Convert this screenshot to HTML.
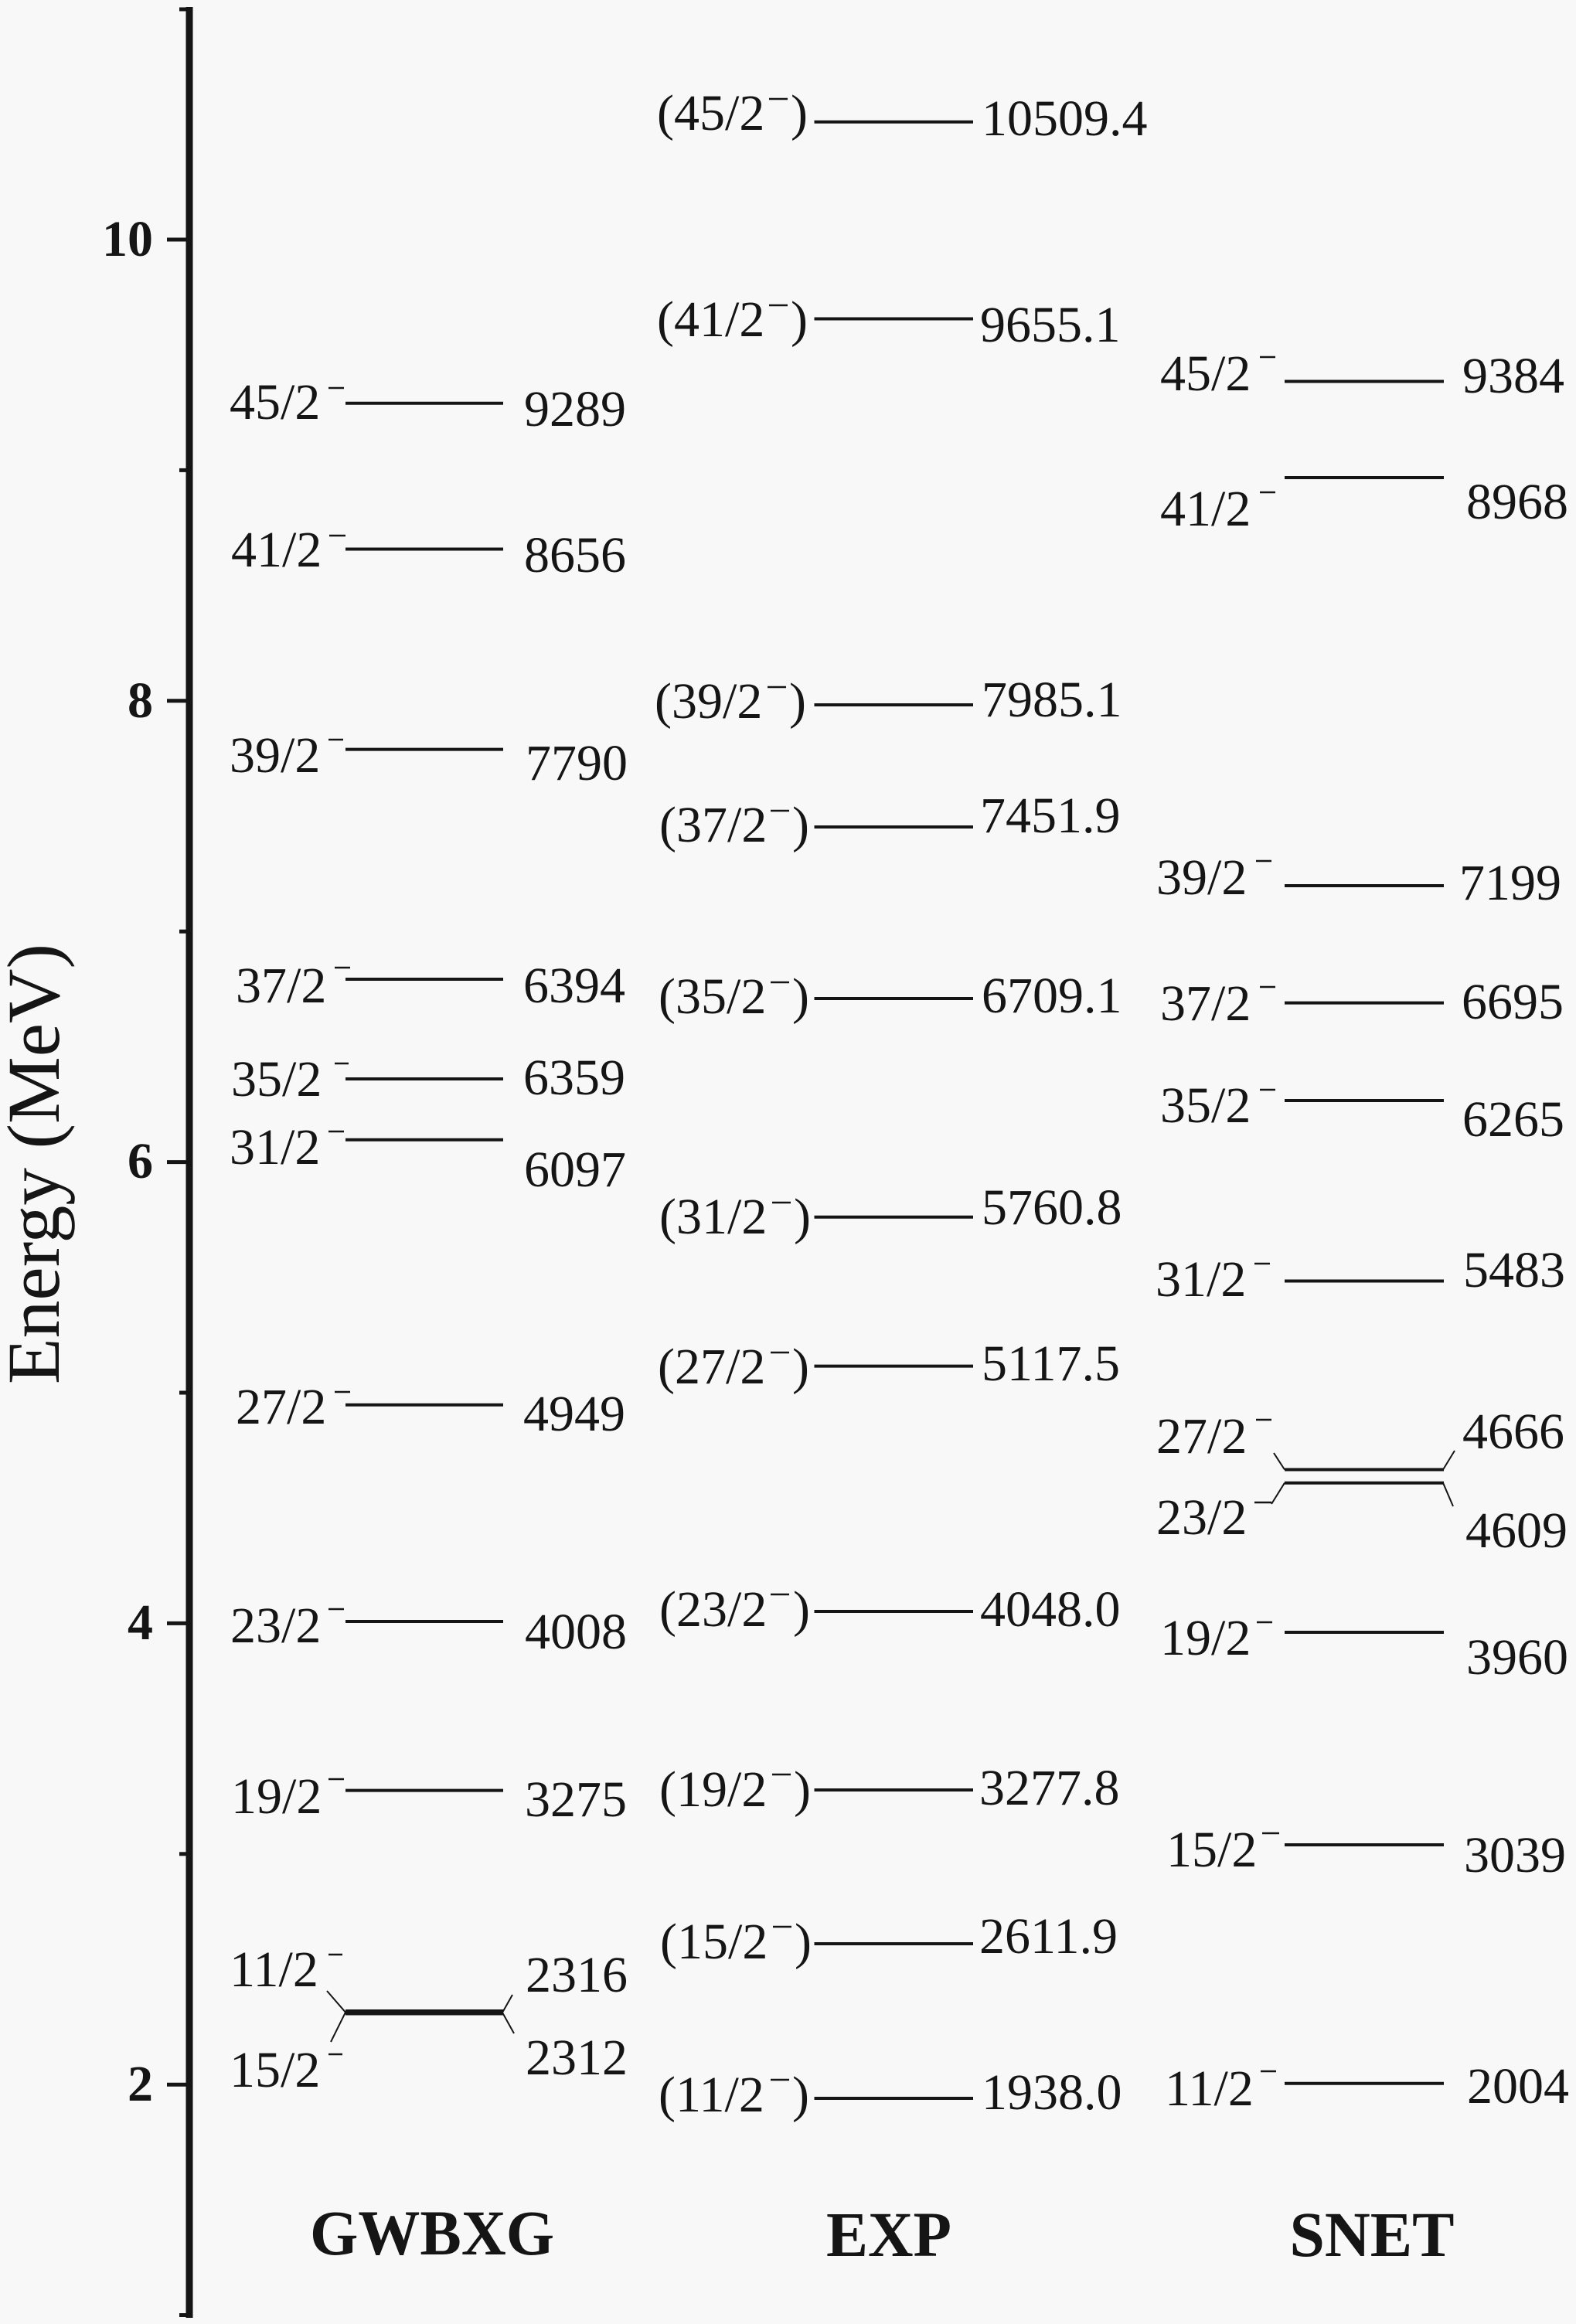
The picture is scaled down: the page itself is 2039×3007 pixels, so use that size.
<!DOCTYPE html>
<html>
<head>
<meta charset="utf-8">
<style>
html,body{margin:0;padding:0;background:#f8f8f8;}
svg{display:block;}
text{font-family:"Liberation Serif","Times New Roman",serif;fill:#151515;}
.l{font-size:66px;}
.b{font-size:66px;font-weight:bold;}
.t{font-size:83px;font-weight:bold;}
</style>
</head>
<body>
<svg width="2039" height="3007" viewBox="0 0 2039 3007" xmlns="http://www.w3.org/2000/svg">
<rect x="0" y="0" width="2039" height="3007" fill="#f8f8f8"/>
<g stroke="#151515" fill="none">
<!-- axis -->
<line x1="245" y1="9" x2="245" y2="2999" stroke-width="9"/>
<g stroke-width="5">
<line x1="216" y1="310" x2="245" y2="310"/>
<line x1="216" y1="906.8" x2="245" y2="906.8"/>
<line x1="216" y1="1503.6" x2="245" y2="1503.6"/>
<line x1="216" y1="2100.4" x2="245" y2="2100.4"/>
<line x1="216" y1="2697.2" x2="245" y2="2697.2"/>
<line x1="232" y1="12" x2="245" y2="12"/>
<line x1="232" y1="608.4" x2="245" y2="608.4"/>
<line x1="232" y1="1205.2" x2="245" y2="1205.2"/>
<line x1="232" y1="1802" x2="245" y2="1802"/>
<line x1="232" y1="2398.8" x2="245" y2="2398.8"/>
<line x1="232" y1="2995.5" x2="245" y2="2995.5"/>
</g>
<!-- GWBXG levels -->
<g stroke-width="4">
<line x1="447" y1="521.7" x2="651" y2="521.7"/>
<line x1="447" y1="710.5" x2="651" y2="710.5"/>
<line x1="447" y1="969.6" x2="651" y2="969.6"/>
<line x1="447" y1="1267" x2="651" y2="1267"/>
<line x1="447" y1="1396" x2="651" y2="1396"/>
<line x1="447" y1="1474.7" x2="651" y2="1474.7"/>
<line x1="447" y1="1817.8" x2="651" y2="1817.8"/>
<line x1="447" y1="2098" x2="651" y2="2098"/>
<line x1="447" y1="2316.6" x2="651" y2="2316.6"/>
<line x1="447" y1="2602" x2="651" y2="2602"/>
<line x1="447" y1="2605.5" x2="651" y2="2605.5"/>
</g>
<g stroke-width="2">
<polyline points="423,2576 447,2603.7 428,2642"/>
<polyline points="663,2581 650,2604 665,2631"/>
</g>
<!-- EXP levels -->
<g stroke-width="4">
<line x1="1053.5" y1="157.8" x2="1259" y2="157.8"/>
<line x1="1053.5" y1="412.5" x2="1259" y2="412.5"/>
<line x1="1053.5" y1="912" x2="1259" y2="912"/>
<line x1="1053.5" y1="1070" x2="1259" y2="1070"/>
<line x1="1053.5" y1="1292" x2="1259" y2="1292"/>
<line x1="1053.5" y1="1574.7" x2="1259" y2="1574.7"/>
<line x1="1053.5" y1="1767.6" x2="1259" y2="1767.6"/>
<line x1="1053.5" y1="2085" x2="1259" y2="2085"/>
<line x1="1053.5" y1="2316" x2="1259" y2="2316"/>
<line x1="1053.5" y1="2515" x2="1259" y2="2515"/>
<line x1="1053.5" y1="2715" x2="1259" y2="2715"/>
</g>
<!-- SNET levels -->
<g stroke-width="4">
<line x1="1662" y1="493.5" x2="1868" y2="493.5"/>
<line x1="1662" y1="618" x2="1868" y2="618"/>
<line x1="1662" y1="1146" x2="1868" y2="1146"/>
<line x1="1662" y1="1297.6" x2="1868" y2="1297.6"/>
<line x1="1662" y1="1424" x2="1868" y2="1424"/>
<line x1="1662" y1="1657.5" x2="1868" y2="1657.5"/>
<line x1="1662" y1="1901.5" x2="1868" y2="1901.5"/>
<line x1="1662" y1="1918.7" x2="1868" y2="1918.7"/>
<line x1="1662" y1="2112" x2="1868" y2="2112"/>
<line x1="1662" y1="2387" x2="1868" y2="2387"/>
<line x1="1662" y1="2695.7" x2="1868" y2="2695.7"/>
</g>
<g stroke-width="2">
<line x1="1648" y1="1880" x2="1662" y2="1901.5"/>
<line x1="1662" y1="1918.7" x2="1645" y2="1946"/>
<line x1="1867" y1="1901.5" x2="1882" y2="1877"/>
<line x1="1867" y1="1918.7" x2="1880" y2="1949"/>
</g>
<!-- superscript minus signs -->
<g stroke-width="2.5">
<line x1="425" y1="502" x2="445" y2="502"/>
<line x1="426" y1="693" x2="447" y2="693"/>
<line x1="425" y1="957" x2="444" y2="957"/>
<line x1="433" y1="1252" x2="453" y2="1252"/>
<line x1="433" y1="1376" x2="451" y2="1376"/>
<line x1="425" y1="1464" x2="445" y2="1464"/>
<line x1="433" y1="1801" x2="453" y2="1801"/>
<line x1="425" y1="2082" x2="445" y2="2082"/>
<line x1="425" y1="2302" x2="445" y2="2302"/>
<line x1="425" y1="2529" x2="443" y2="2529"/>
<line x1="425" y1="2658" x2="443" y2="2658"/>

<line x1="995" y1="128" x2="1019" y2="128"/>
<line x1="995" y1="395" x2="1019" y2="395"/>
<line x1="993" y1="889" x2="1017" y2="889"/>
<line x1="997" y1="1049" x2="1021" y2="1049"/>
<line x1="997" y1="1271" x2="1021" y2="1271"/>
<line x1="999" y1="1556" x2="1023" y2="1556"/>
<line x1="997" y1="1750" x2="1021" y2="1750"/>
<line x1="997" y1="2063" x2="1021" y2="2063"/>
<line x1="999" y1="2296" x2="1023" y2="2296"/>
<line x1="1000" y1="2493" x2="1024" y2="2493"/>
<line x1="997" y1="2691" x2="1021" y2="2691"/>

<line x1="1630" y1="462" x2="1650" y2="462"/>
<line x1="1630" y1="637" x2="1650" y2="637"/>
<line x1="1625" y1="1114" x2="1645" y2="1114"/>
<line x1="1630" y1="1277" x2="1650" y2="1277"/>
<line x1="1630" y1="1410" x2="1650" y2="1410"/>
<line x1="1623" y1="1635" x2="1643" y2="1635"/>
<line x1="1625" y1="1837" x2="1645" y2="1837"/>
<line x1="1623" y1="1944" x2="1645" y2="1944"/>
<line x1="1626" y1="2099" x2="1646" y2="2099"/>
<line x1="1633" y1="2372" x2="1655" y2="2372"/>
<line x1="1631" y1="2680" x2="1651" y2="2680"/>
</g>
</g>

<!-- tick labels -->
<g class="b" text-anchor="end">
<text x="198" y="331">10</text>
<text x="198" y="928">8</text>
<text x="198" y="1524">6</text>
<text x="198" y="2121">4</text>
<text x="198" y="2718">2</text>
</g>
<text class="l" style="font-size:96px" transform="translate(76,1506) rotate(-90)" text-anchor="middle" textLength="570" lengthAdjust="spacingAndGlyphs">Energy (MeV)</text>

<!-- GWBXG labels -->
<g class="l">
<text x="297" y="542">45/2</text>
<text x="299" y="733">41/2</text>
<text x="297" y="999">39/2</text>
<text x="305" y="1297">37/2</text>
<text x="299" y="1418">35/2</text>
<text x="297" y="1506">31/2</text>
<text x="305" y="1842">27/2</text>
<text x="298" y="2125">23/2</text>
<text x="299" y="2346">19/2</text>
<text x="297" y="2570">11/2</text>
<text x="297" y="2700">15/2</text>

<text x="678" y="551">9289</text>
<text x="678" y="740">8656</text>
<text x="680" y="1009">7790</text>
<text x="677" y="1297">6394</text>
<text x="677" y="1416">6359</text>
<text x="678" y="1535">6097</text>
<text x="677" y="1851">4949</text>
<text x="679" y="2133">4008</text>
<text x="679" y="2350">3275</text>
<text x="680" y="2577">2316</text>
<text x="680" y="2684">2312</text>
</g>

<!-- EXP labels -->
<g class="l">
<text x="850" y="168">(45/2</text><text x="1045" y="168" text-anchor="end">)</text>
<text x="850" y="435">(41/2</text><text x="1045" y="435" text-anchor="end">)</text>
<text x="847" y="929">(39/2</text><text x="1043" y="929" text-anchor="end">)</text>
<text x="853" y="1089">(37/2</text><text x="1047" y="1089" text-anchor="end">)</text>
<text x="852" y="1311">(35/2</text><text x="1047" y="1311" text-anchor="end">)</text>
<text x="853" y="1596">(31/2</text><text x="1049" y="1596" text-anchor="end">)</text>
<text x="851" y="1790">(27/2</text><text x="1047" y="1790" text-anchor="end">)</text>
<text x="853" y="2104">(23/2</text><text x="1048" y="2104" text-anchor="end">)</text>
<text x="853" y="2337">(19/2</text><text x="1049" y="2337" text-anchor="end">)</text>
<text x="854" y="2534">(15/2</text><text x="1050" y="2534" text-anchor="end">)</text>
<text x="852" y="2732">(11/2</text><text x="1047" y="2732" text-anchor="end">)</text>

<text x="1270" y="175">10509.4</text>
<text x="1268" y="442">9655.1</text>
<text x="1270" y="927">7985.1</text>
<text x="1268" y="1077">7451.9</text>
<text x="1270" y="1310">6709.1</text>
<text x="1270" y="1584">5760.8</text>
<text x="1270" y="1786">5117.5</text>
<text x="1268" y="2104">4048.0</text>
<text x="1267" y="2335">3277.8</text>
<text x="1267" y="2527">2611.9</text>
<text x="1270" y="2729">1938.0</text>
</g>

<!-- SNET labels -->
<g class="l">
<text x="1501" y="505">45/2</text>
<text x="1501" y="680">41/2</text>
<text x="1496" y="1157">39/2</text>
<text x="1501" y="1320">37/2</text>
<text x="1501" y="1452">35/2</text>
<text x="1495" y="1677">31/2</text>
<text x="1496" y="1880">27/2</text>
<text x="1496" y="1985">23/2</text>
<text x="1501" y="2141">19/2</text>
<text x="1509" y="2415">15/2</text>
<text x="1507" y="2724">11/2</text>

<text x="1892" y="508">9384</text>
<text x="1897" y="671">8968</text>
<text x="1888" y="1164">7199</text>
<text x="1891" y="1318">6695</text>
<text x="1892" y="1470">6265</text>
<text x="1893" y="1665">5483</text>
<text x="1892" y="1874">4666</text>
<text x="1896" y="2002">4609</text>
<text x="1897" y="2166">3960</text>
<text x="1894" y="2422">3039</text>
<text x="1898" y="2721">2004</text>
</g>

<!-- column titles -->
<g class="t" text-anchor="middle">
<text x="559" y="2917" textLength="316" lengthAdjust="spacingAndGlyphs">GWBXG</text>
<text x="1150" y="2919" textLength="162" lengthAdjust="spacingAndGlyphs">EXP</text>
<text x="1775" y="2919" textLength="213" lengthAdjust="spacingAndGlyphs">SNET</text>
</g>
</svg>
</body>
</html>
